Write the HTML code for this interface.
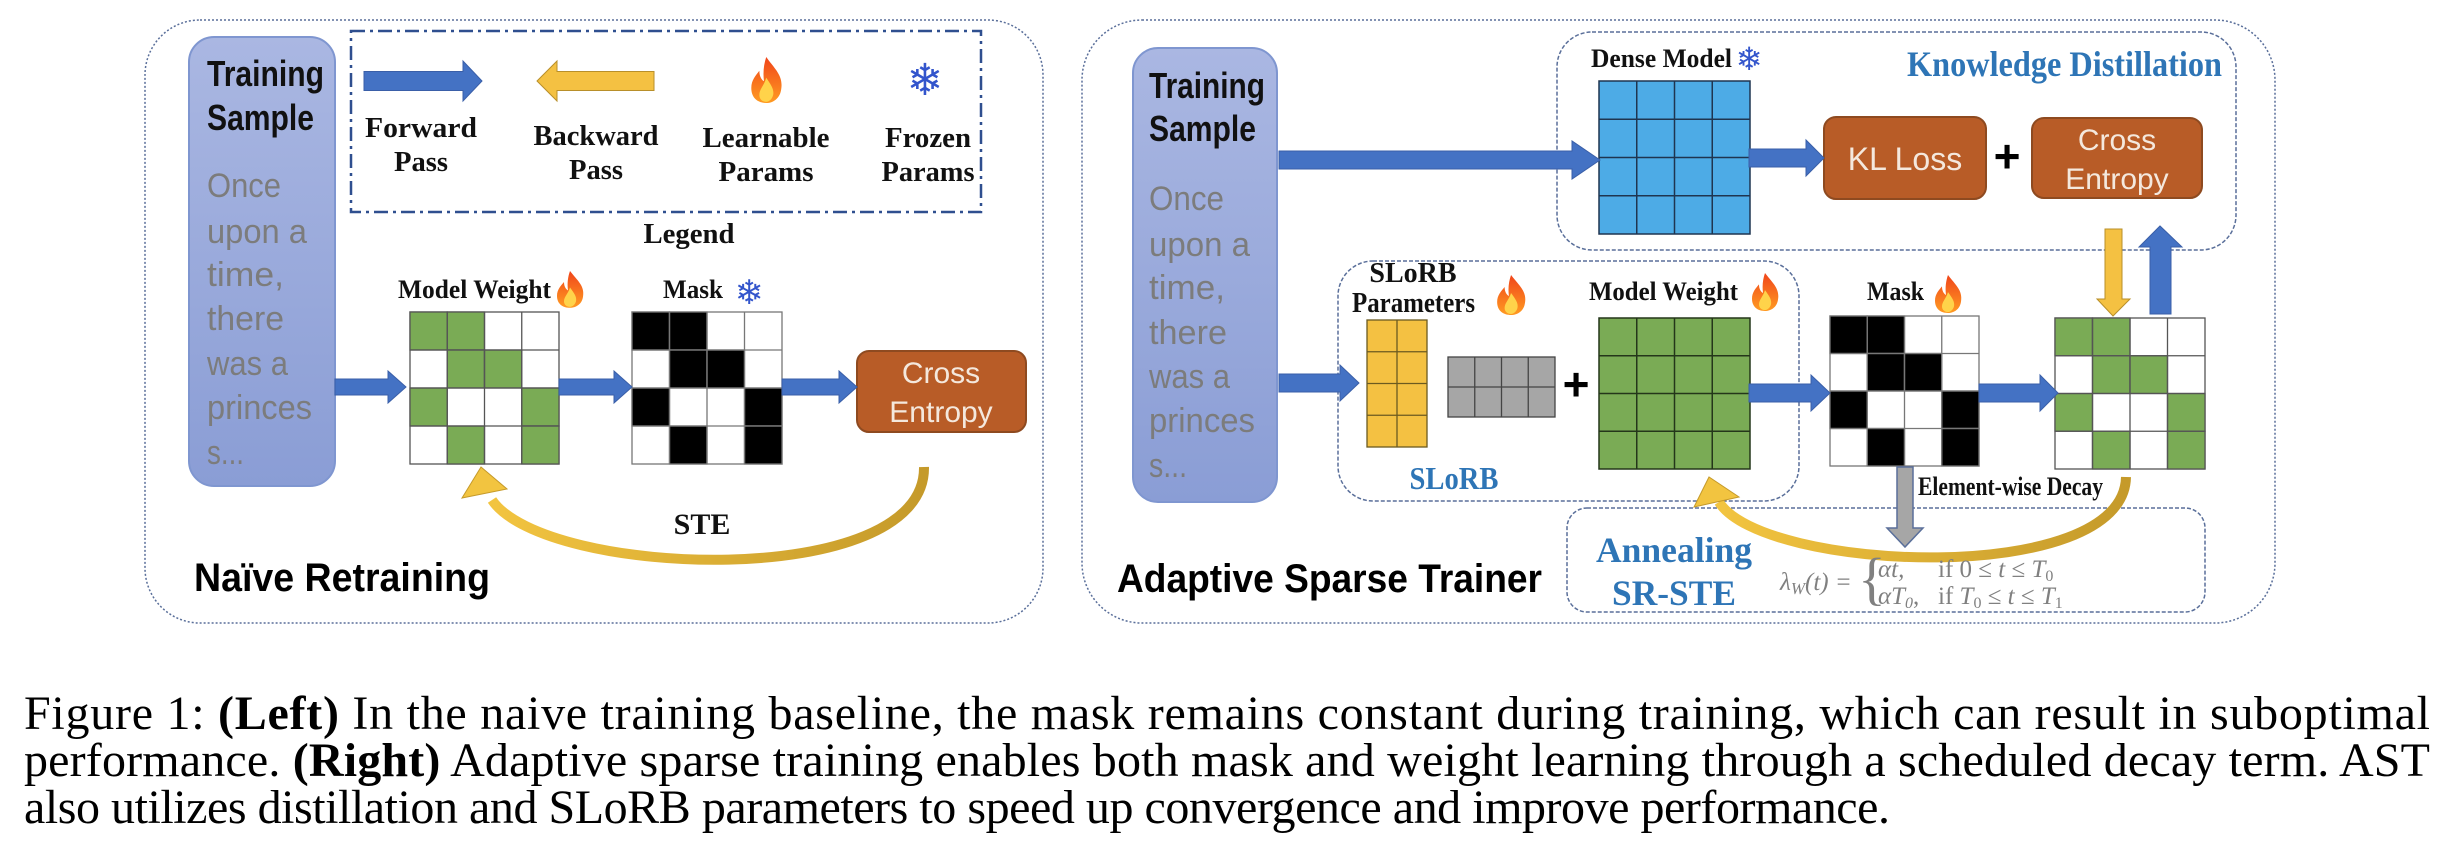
<!DOCTYPE html>
<html><head><meta charset="utf-8"><style>
html,body{margin:0;padding:0;background:#fff;width:2452px;height:844px;overflow:hidden}
svg{display:block}
.sf{font-family:"Liberation Serif",serif;font-weight:bold}
.ss{font-family:"Liberation Sans",sans-serif}
</style></head><body>
<svg width="2452" height="844" viewBox="0 0 2452 844" xmlns="http://www.w3.org/2000/svg">
<defs>
<linearGradient id="tsg" x1="0" y1="0" x2="0" y2="1"><stop offset="0" stop-color="#aab7e2"/><stop offset="1" stop-color="#8a9dd5"/></linearGradient>
<linearGradient id="fl" x1="0" y1="0" x2="0" y2="1"><stop offset="0" stop-color="#f0451a"/><stop offset="1" stop-color="#ff9b22"/></linearGradient>
<linearGradient id="cv" x1="0" y1="0" x2="1" y2="0"><stop offset="0" stop-color="#f2c440"/><stop offset="1" stop-color="#c59a2a"/></linearGradient>
<g id="flame"><path d="M15 0 C22 10 30 16 28 28 C27 36 21 40 15 40 C8 40 2 36 2 27 C2 20 6 16 9 12 C9 17 11 20 13 21 C12 13 13 6 15 0 Z" fill="url(#fl)"/><path d="M15 18 C19 24 22 28 21 33 C20 37 17 39 15 39 C12 39 9 37 9 33 C9 28 13 25 15 18 Z" fill="#ffd34a"/></g>
</defs>

<!-- LEFT PANEL -->
<rect x="145" y="20" width="898" height="603" rx="55" fill="none" stroke="#5a6f9a" stroke-width="1.5" stroke-dasharray="2,2"/>
<rect x="189" y="37" width="146" height="449" rx="25" fill="url(#tsg)" stroke="#7f96d0" stroke-width="2"/>
<g class="ss" font-weight="bold" font-size="36" fill="#111">
<text x="207" y="86" textLength="117" lengthAdjust="spacingAndGlyphs">Training</text>
<text x="207" y="130" textLength="107" lengthAdjust="spacingAndGlyphs">Sample</text>
</g>
<g class="ss" font-size="34" fill="#7c7c7c">
<text x="207" y="197" textLength="74" lengthAdjust="spacingAndGlyphs">Once</text>
<text x="207" y="243" textLength="100" lengthAdjust="spacingAndGlyphs">upon a</text>
<text x="207" y="286" textLength="77" lengthAdjust="spacingAndGlyphs">time,</text>
<text x="207" y="330" textLength="77" lengthAdjust="spacingAndGlyphs">there</text>
<text x="207" y="375" textLength="81" lengthAdjust="spacingAndGlyphs">was a</text>
<text x="207" y="419" textLength="105" lengthAdjust="spacingAndGlyphs">princes</text>
<text x="207" y="464" textLength="37" lengthAdjust="spacingAndGlyphs">s...</text>
</g>

<!-- legend -->
<rect x="351" y="31" width="630" height="181" fill="none" stroke="#2f4f8f" stroke-width="2.5" stroke-dasharray="14,5,3,5"/>
<polygon points="364,71.5 463,71.5 463,61 482,81 463,101 463,90.5 364,90.5" fill="#4472c4" stroke="#3a5fa8"/>
<polygon points="654,71.5 557,71.5 557,61 537,81 557,101 557,90.5 654,90.5" fill="#f4c142" stroke="#b88f2a"/>
<use href="#flame" transform="translate(749,57) scale(1.15)"/>
<text x="925" y="95" font-size="44" fill="#3355cc" text-anchor="middle" font-family="DejaVu Sans,sans-serif">❄</text>
<g class="sf" font-size="28" fill="#111" text-anchor="middle">
<text x="421" y="137" textLength="112" lengthAdjust="spacingAndGlyphs">Forward</text>
<text x="421" y="171" textLength="54" lengthAdjust="spacingAndGlyphs">Pass</text>
<text x="596" y="145" textLength="125" lengthAdjust="spacingAndGlyphs">Backward</text>
<text x="596" y="179" textLength="54" lengthAdjust="spacingAndGlyphs">Pass</text>
<text x="766" y="147" textLength="127" lengthAdjust="spacingAndGlyphs">Learnable</text>
<text x="766" y="181" textLength="95" lengthAdjust="spacingAndGlyphs">Params</text>
<text x="928" y="147" textLength="86" lengthAdjust="spacingAndGlyphs">Frozen</text>
<text x="928" y="181" textLength="93" lengthAdjust="spacingAndGlyphs">Params</text>
<text x="689" y="243" textLength="91" lengthAdjust="spacingAndGlyphs">Legend</text>
</g>

<g class="sf" font-size="26" fill="#111">
<text x="398" y="298" textLength="153" lengthAdjust="spacingAndGlyphs">Model Weight</text>
<text x="663" y="298" textLength="60" lengthAdjust="spacingAndGlyphs">Mask</text>
</g>
<use href="#flame" transform="translate(555,271) scale(1.0,0.92)"/>
<text x="749" y="304" font-size="34" fill="#3355cc" text-anchor="middle" font-family="DejaVu Sans,sans-serif">❄</text>

<!-- grid1 -->
<g stroke="#555" stroke-width="1.3">
<rect x="410" y="312" width="149" height="152" fill="#fff"/>
<g fill="#7aab55">
<rect x="410" y="312" width="37.25" height="38"/><rect x="447.25" y="312" width="37.25" height="38"/>
<rect x="447.25" y="350" width="37.25" height="38"/><rect x="484.5" y="350" width="37.25" height="38"/>
<rect x="410" y="388" width="37.25" height="38"/><rect x="521.75" y="388" width="37.25" height="38"/>
<rect x="447.25" y="426" width="37.25" height="38"/><rect x="521.75" y="426" width="37.25" height="38"/>
</g>
<path d="M447.25 312V464M484.5 312V464M521.75 312V464M410 350H559M410 388H559M410 426H559" fill="none"/>
</g>
<!-- mask left -->
<g stroke="#777" stroke-width="1.3">
<rect x="632" y="312" width="150" height="152" fill="#fff"/>
<g fill="#000">
<rect x="632" y="312" width="37.5" height="38"/><rect x="669.5" y="312" width="37.5" height="38"/>
<rect x="669.5" y="350" width="37.5" height="38"/><rect x="707" y="350" width="37.5" height="38"/>
<rect x="632" y="388" width="37.5" height="38"/><rect x="744.5" y="388" width="37.5" height="38"/>
<rect x="669.5" y="426" width="37.5" height="38"/><rect x="744.5" y="426" width="37.5" height="38"/>
</g>
<path d="M669.5 312V464M707 312V464M744.5 312V464M632 350H782M632 388H782M632 426H782" fill="none"/>
</g>
<rect x="857" y="351" width="169" height="81" rx="12" fill="#b85c27" stroke="#8e4a20" stroke-width="2"/>
<g class="ss" font-size="30" fill="#f4e8dd" text-anchor="middle">
<text x="941" y="383">Cross</text><text x="941" y="422">Entropy</text>
</g>
<g fill="#4472c4" stroke="#3a5fa8">
<polygon points="335,379 388,379 388,371 406,387 388,403 388,395 335,395"/>
<polygon points="559,379 614,379 614,371 632,387 614,403 614,395 559,395"/>
<polygon points="782,379 839,379 839,371 857,387 839,403 839,395 782,395"/>
</g>
<path d="M924 467 C926 592 545 578 492 500" fill="none" stroke="url(#cv)" stroke-width="10"/>
<polygon points="481,467 462,498 507,489" fill="#f2c440" stroke="#c59a2a"/>
<text x="702" y="534" class="sf" font-size="30" fill="#111" text-anchor="middle">STE</text>
<text x="194" y="591" class="ss" font-weight="bold" font-size="40" fill="#000" textLength="296" lengthAdjust="spacingAndGlyphs">Naïve Retraining</text>

<!-- RIGHT PANEL -->
<rect x="1082" y="20" width="1193" height="603" rx="60" fill="none" stroke="#5a6f9a" stroke-width="1.5" stroke-dasharray="2,2"/>
<rect x="1557" y="32" width="679" height="218" rx="35" fill="none" stroke="#5a6f9a" stroke-width="1.5" stroke-dasharray="4,2"/>
<rect x="1338" y="261" width="461" height="240" rx="35" fill="none" stroke="#5a6f9a" stroke-width="1.5" stroke-dasharray="4,2"/>
<rect x="1567" y="508" width="638" height="104" rx="20" fill="none" stroke="#5a6f9a" stroke-width="1.5" stroke-dasharray="4,2"/>

<rect x="1133" y="48" width="144" height="454" rx="25" fill="url(#tsg)" stroke="#7f96d0" stroke-width="2"/>
<g class="ss" font-weight="bold" font-size="36" fill="#111">
<text x="1149" y="98" textLength="116" lengthAdjust="spacingAndGlyphs">Training</text>
<text x="1149" y="141" textLength="107" lengthAdjust="spacingAndGlyphs">Sample</text>
</g>
<g class="ss" font-size="34" fill="#7c7c7c">
<text x="1149" y="210" textLength="75" lengthAdjust="spacingAndGlyphs">Once</text>
<text x="1149" y="256" textLength="101" lengthAdjust="spacingAndGlyphs">upon a</text>
<text x="1149" y="299" textLength="76" lengthAdjust="spacingAndGlyphs">time,</text>
<text x="1149" y="344" textLength="78" lengthAdjust="spacingAndGlyphs">there</text>
<text x="1149" y="388" textLength="81" lengthAdjust="spacingAndGlyphs">was a</text>
<text x="1149" y="432" textLength="106" lengthAdjust="spacingAndGlyphs">princes</text>
<text x="1149" y="477" textLength="38" lengthAdjust="spacingAndGlyphs">s...</text>
</g>

<!-- dense model -->
<text x="1591" y="67" class="sf" font-size="26" fill="#111" textLength="141" lengthAdjust="spacingAndGlyphs">Dense Model</text>
<text x="1749" y="70" font-size="32" fill="#3355cc" text-anchor="middle" font-family="DejaVu Sans,sans-serif">❄</text>
<text x="1907" y="76" class="sf" font-size="36" fill="#2e75b6" textLength="315" lengthAdjust="spacingAndGlyphs">Knowledge Distillation</text>
<g stroke="#1f3550" stroke-width="1.5">
<rect x="1599" y="81" width="151" height="153" fill="#4dabe6"/>
<path d="M1636.75 81V234M1674.5 81V234M1712.25 81V234M1599 119.25H1750M1599 157.5H1750M1599 195.75H1750" fill="none"/>
</g>
<rect x="1824" y="117" width="162" height="82" rx="12" fill="#b85c27" stroke="#8e4a20" stroke-width="2"/>
<text x="1905" y="170" class="ss" font-size="32" fill="#f4e8dd" text-anchor="middle">KL Loss</text>
<text x="2007" y="172" class="ss" font-weight="bold" font-size="46" fill="#000" text-anchor="middle">+</text>
<rect x="2032" y="118" width="170" height="80" rx="12" fill="#b85c27" stroke="#8e4a20" stroke-width="2"/>
<g class="ss" font-size="30" fill="#f4e8dd" text-anchor="middle">
<text x="2117" y="150">Cross</text><text x="2117" y="189">Entropy</text>
</g>

<!-- SLoRB -->
<text x="1413" y="282" class="sf" font-size="28" fill="#111" text-anchor="middle">SLoRB</text>
<text x="1352" y="312" class="sf" font-size="28" fill="#111" textLength="123" lengthAdjust="spacingAndGlyphs">Parameters</text>
<use href="#flame" transform="translate(1495,275) scale(1.07,1.0)"/>
<g stroke="#6b5a20" stroke-width="1.3">
<rect x="1367" y="320" width="60" height="127" fill="#f4c142"/>
<path d="M1397 320V447M1367 351.75H1427M1367 383.5H1427M1367 415.25H1427" fill="none"/>
</g>
<g stroke="#444" stroke-width="1.3">
<rect x="1448" y="357" width="107" height="60" fill="#a6a6a6"/>
<path d="M1474.75 357V417M1501.5 357V417M1528.25 357V417M1448 387H1555" fill="none"/>
</g>
<text x="1576" y="400" class="ss" font-weight="bold" font-size="46" fill="#000" text-anchor="middle">+</text>
<text x="1454" y="489" class="sf" font-size="32" fill="#2e75b6" text-anchor="middle" textLength="89" lengthAdjust="spacingAndGlyphs">SLoRB</text>

<!-- model weight right -->
<text x="1589" y="300" class="sf" font-size="26" fill="#111" textLength="149" lengthAdjust="spacingAndGlyphs">Model Weight</text>
<use href="#flame" transform="translate(1750,273) scale(1.0,0.95)"/>
<g stroke="#24361a" stroke-width="1.5">
<rect x="1599" y="318" width="151" height="151" fill="#7aab55"/>
<path d="M1636.75 318V469M1674.5 318V469M1712.25 318V469M1599 355.75H1750M1599 393.5H1750M1599 431.25H1750" fill="none"/>
</g>

<!-- mask right -->
<text x="1867" y="300" class="sf" font-size="26" fill="#111" textLength="57" lengthAdjust="spacingAndGlyphs">Mask</text>
<use href="#flame" transform="translate(1933,275) scale(1.0,0.95)"/>
<g stroke="#777" stroke-width="1.3">
<rect x="1830" y="316" width="149" height="150" fill="#fff"/>
<g fill="#000">
<rect x="1830" y="316" width="37.25" height="37.5"/><rect x="1867.25" y="316" width="37.25" height="37.5"/>
<rect x="1867.25" y="353.5" width="37.25" height="37.5"/><rect x="1904.5" y="353.5" width="37.25" height="37.5"/>
<rect x="1830" y="391" width="37.25" height="37.5"/><rect x="1941.75" y="391" width="37.25" height="37.5"/>
<rect x="1867.25" y="428.5" width="37.25" height="37.5"/><rect x="1941.75" y="428.5" width="37.25" height="37.5"/>
</g>
<path d="M1867.25 316V466M1904.5 316V466M1941.75 316V466M1830 353.5H1979M1830 391H1979M1830 428.5H1979" fill="none"/>
</g>

<!-- result grid right -->
<g stroke="#555" stroke-width="1.3">
<rect x="2055" y="318" width="150" height="151" fill="#fff"/>
<g fill="#7aab55">
<rect x="2055" y="318" width="37.5" height="37.75"/><rect x="2092.5" y="318" width="37.5" height="37.75"/>
<rect x="2092.5" y="355.75" width="37.5" height="37.75"/><rect x="2130" y="355.75" width="37.5" height="37.75"/>
<rect x="2055" y="393.5" width="37.5" height="37.75"/><rect x="2167.5" y="393.5" width="37.5" height="37.75"/>
<rect x="2092.5" y="431.25" width="37.5" height="37.75"/><rect x="2167.5" y="431.25" width="37.5" height="37.75"/>
</g>
<path d="M2092.5 318V469M2130 318V469M2167.5 318V469M2055 355.75H2205M2055 393.5H2205M2055 431.25H2205" fill="none"/>
</g>

<!-- right arrows -->
<g fill="#4472c4" stroke="#3a5fa8">
<polygon points="1279,151 1572,151 1572,141 1600,160 1572,179 1572,169 1279,169"/>
<polygon points="1749,149 1806,149 1806,140 1824,158 1806,176 1806,167 1749,167"/>
<polygon points="1279,374 1340,374 1340,365 1359,383 1340,401 1340,392 1279,392"/>
<polygon points="1749,384 1811,384 1811,375 1830,393 1811,411 1811,402 1749,402"/>
<polygon points="1979,384 2040,384 2040,375 2058,393 2040,411 2040,402 1979,402"/>
<polygon points="2150,314 2171,314 2171,247 2182,247 2160,226 2139,247 2150,247"/>
</g>
<polygon points="2105,229 2122,229 2122,299 2130,299 2113,316 2097,299 2105,299" fill="#f4c142" stroke="#b88f2a"/>
<polygon points="1897,467 1913,467 1913,528 1923,528 1905,547 1887,528 1897,528" fill="#a6a6a6" stroke="#5a6f9a" stroke-width="1.5"/>
<path d="M2126 477 C2124 588 1762 572 1719 502" fill="none" stroke="url(#cv)" stroke-width="10"/>
<polygon points="1709,477 1694,507 1739,497" fill="#f2c440" stroke="#c59a2a"/>
<text x="1918" y="495" class="sf" font-size="26" fill="#111" textLength="185" lengthAdjust="spacingAndGlyphs">Element-wise Decay</text>

<!-- annealing -->
<text x="1674" y="562" class="sf" font-size="36" fill="#2e75b6" text-anchor="middle" textLength="156" lengthAdjust="spacingAndGlyphs">Annealing</text>
<text x="1674" y="605" class="sf" font-size="36" fill="#2e75b6" text-anchor="middle" textLength="124" lengthAdjust="spacingAndGlyphs">SR-STE</text>
<g font-family="Liberation Serif,serif" fill="#808080" font-size="25">
<text x="1780" y="590" font-style="italic">λ<tspan font-size="17" dy="4">W</tspan><tspan dy="-4">(t) =</tspan></text>
<text x="1858" y="598" font-size="58" font-weight="normal">{</text>
<text x="1878" y="577" font-style="italic">αt,</text>
<text x="1938" y="577">if 0 ≤ <tspan font-style="italic">t</tspan> ≤ <tspan font-style="italic">T</tspan><tspan font-size="16" dy="4">0</tspan></text>
<text x="1878" y="604" font-style="italic">αT<tspan font-size="16" dy="4">0</tspan><tspan dy="-4" font-style="normal">,</tspan></text>
<text x="1938" y="604">if <tspan font-style="italic">T</tspan><tspan font-size="16" dy="4">0</tspan><tspan dy="-4"> ≤ </tspan><tspan font-style="italic">t</tspan> ≤ <tspan font-style="italic">T</tspan><tspan font-size="16" dy="4">1</tspan></text>
</g>
<text x="1117" y="592" class="ss" font-weight="bold" font-size="40" fill="#000" textLength="425" lengthAdjust="spacingAndGlyphs">Adaptive Sparse Trainer</text>

<!-- caption -->
<g font-family="Liberation Serif,serif" font-size="48" fill="#000">
<text x="24" y="729" textLength="2406" lengthAdjust="spacing">Figure 1: <tspan font-weight="bold">(Left)</tspan> In the naive training baseline, the mask remains constant during training, which can result in suboptimal</text>
<text x="24" y="776" textLength="2406" lengthAdjust="spacing">performance. <tspan font-weight="bold">(Right)</tspan> Adaptive sparse training enables both mask and weight learning through a scheduled decay term. AST</text>
<text x="24" y="823" textLength="1866" lengthAdjust="spacing">also utilizes distillation and SLoRB parameters to speed up convergence and improve performance.</text>
</g>
</svg>
</body></html>
